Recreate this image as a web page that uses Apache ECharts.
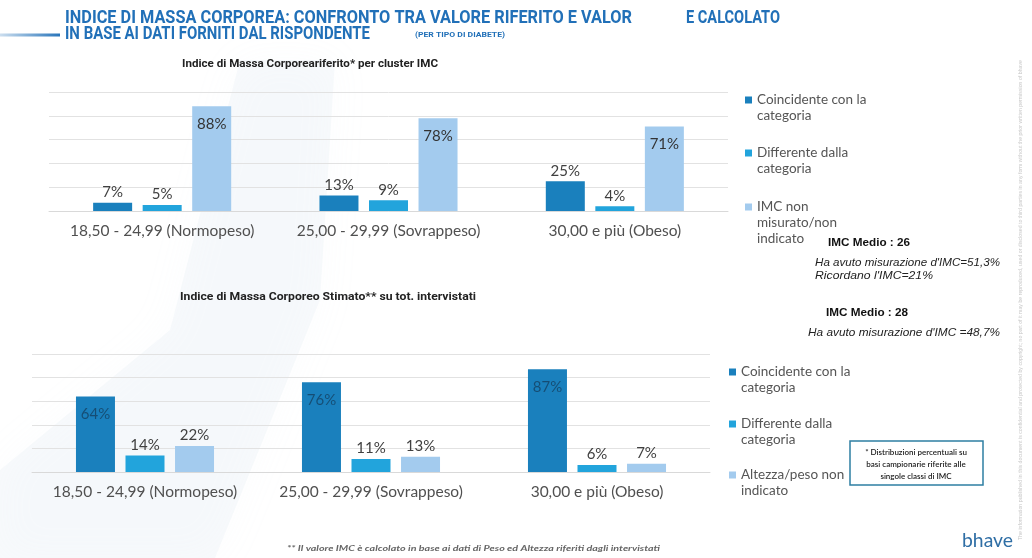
<!DOCTYPE html>
<html>
<head>
<meta charset="utf-8">
<script src="https://cdn.jsdelivr.net/npm/echarts@6/dist/echarts.min.js"></script>
<style>
  html, body { margin: 0; padding: 0; background: #fff; }
  #chart { width: 1032px; height: 558px; }
</style>
</head>
<body>
<div id="chart"></div>
<script>
// categorie IMC
const categories = ['18,50 - 24,99 (Normopeso)', '25,00 - 29,99 (Sovrappeso)', '30,00 e più (Obeso)'];

// IMC riferito (grafico in alto)
const riferitoCoincidente = [7, 13, 25];
const riferitoDifferente = [5, 9, 4];
const riferitoNonMisurato = [88, 78, 71];

// IMC stimato (grafico in basso)
const stimatoCoincidente = [64, 76, 87];
const stimatoDifferente = [14, 11, 6];
const stimatoNonIndicato = [22, 13, 7];

// asse valori
const yMin = 0;
const yMax = 100;
const yStep = 20;

const NAME_COINC = 'Coincidente con la categoria';
const NAME_DIFF = 'Differente dalla categoria';
const NAME_IMC = 'IMC non misurato/non indicato';
const NAME_ALT = 'Altezza/peso non indicato';

// testo legenda a capo come nel riferimento
const legendLines = {};
legendLines[NAME_COINC] = ['Coincidente con la', 'categoria'];
legendLines[NAME_DIFF] = ['Differente dalla', 'categoria'];
legendLines[NAME_IMC] = ['IMC non', 'misurato/non', 'indicato'];
legendLines[NAME_ALT] = ['Altezza/peso non', 'indicato'];

const C_DARK = '#1a80bd';
const C_MID = '#22a4dc';
const C_LIGHT = '#a3cbee';
const TITLE_BLUE = '#2170b8';

const chart = echarts.init(document.getElementById('chart'));

const measureCtx = document.createElement('canvas').getContext('2d');
function fitScale(text, font, width) {
  measureCtx.font = font;
  return width / measureCtx.measureText(text).width;
}

function fitText(text, font, x, y, width, fill, extra) {
  return Object.assign({
    type: 'text',
    x: x,
    y: y,
    scaleX: fitScale(text, font, width),
    silent: true,
    style: { text: text, font: font, fill: fill, verticalAlign: 'middle' }
  }, extra || {});
}

function barData(values, insideColor) {
  return values.map(v => v >= 50
    ? { value: v, label: { position: 'insideTop', distance: 10, color: insideColor } }
    : v);
}

function barSeries(name, values, color, idx, insideColor) {
  return {
    name: name,
    type: 'bar',
    xAxisIndex: idx,
    yAxisIndex: idx,
    data: barData(values, insideColor),
    barWidth: 39,
    barGap: '27%',
    itemStyle: { color: color },
    label: {
      show: true,
      position: 'top',
      distance: 3,
      formatter: '{c}%',
      fontFamily: 'Lato',
      fontSize: 15,
      color: '#404040'
    }
  };
}

// una legenda per voce; righe vuote davanti così l'icona sta sulla prima riga
const LH = 16;
function legendItem(name, left, iconY) {
  const n = legendLines[name].length;
  const pad = new Array(n - 1).fill(' ');
  return {
    left: left,
    top: iconY - (2 * n - 1) * LH / 2,
    padding: 0,
    orient: 'vertical',
    selectedMode: false,
    icon: 'rect',
    itemWidth: 7,
    itemHeight: 7,
    itemGap: 4,
    formatter: nm => pad.concat(legendLines[nm]).join('\n'),
    textStyle: {
      fontFamily: 'Lato',
      fontSize: 13.5,
      color: '#555',
      lineHeight: LH
    },
    data: [name]
  };
}

function xAxisOf(idx) {
  return {
    type: 'category',
    gridIndex: idx,
    data: categories,
    axisTick: { show: false },
    axisLine: { lineStyle: { color: '#d9d9d9' } },
    axisLabel: { interval: 0, fontFamily: 'Lato', fontSize: 15.5, color: '#505050', margin: 12 }
  };
}

function yAxisOf(idx) {
  return {
    type: 'value',
    gridIndex: idx,
    min: yMin,
    max: yMax,
    interval: yStep,
    axisLabel: { show: false },
    axisLine: { show: false },
    axisTick: { show: false },
    splitLine: { lineStyle: { color: '#e2e2e2' } }
  };
}

const titleFont = 'bold 19px Roboto';
const subFont = 'bold 11px Roboto';
const noteItalic = 'italic 11px "Liberation Sans"';
const noteBold = 'bold 11px "Liberation Sans"';
const finePrint = 'The information published in this document is confidential and protected by copyright; no part of it may be reproduced, used or disclosed to third parties in any form without the prior written permission of bhave';

const option = {
  backgroundColor: '#fff',
  animation: false,
  grid: [
    { left: 49, top: 92, right: 304, bottom: 347 },
    { left: 32, top: 354, right: 322, bottom: 86 }
  ],
  xAxis: [xAxisOf(0), xAxisOf(1)],
  yAxis: [yAxisOf(0), yAxisOf(1)],
  legend: [
    legendItem(NAME_COINC, 745, 100),
    legendItem(NAME_DIFF, 745, 153),
    legendItem(NAME_IMC, 745, 207),
    legendItem(NAME_COINC, 729, 372),
    legendItem(NAME_DIFF, 729, 424),
    legendItem(NAME_ALT, 729, 475)
  ],
  series: [
    barSeries(NAME_COINC, riferitoCoincidente, C_DARK, 0, '#333'),
    barSeries(NAME_DIFF, riferitoDifferente, C_MID, 0, '#333'),
    barSeries(NAME_IMC, riferitoNonMisurato, C_LIGHT, 0, '#333'),
    barSeries(NAME_COINC, stimatoCoincidente, C_DARK, 1, 'rgba(20,55,85,0.7)'),
    barSeries(NAME_DIFF, stimatoDifferente, C_MID, 1, '#333'),
    barSeries(NAME_ALT, stimatoNonIndicato, C_LIGHT, 1, '#333')
  ],
  graphic: [
    // sfondo sfumato
    {
      type: 'polygon',
      z: -10,
      silent: true,
      shape: { points: [[240, 60], [335, 60], [320, 300], [215, 558], [0, 558], [0, 470], [170, 330]] },
      style: {
        fill: 'rgba(214,226,238,0.16)',
        shadowBlur: 40,
        shadowColor: 'rgba(214,226,238,0.4)'
      }
    },
    // titolo
    fitText('INDICE DI MASSA CORPOREA: CONFRONTO TRA VALORE RIFERITO E VALOR', titleFont, 65, 18, 567, TITLE_BLUE),
    fitText('E CALCOLATO', titleFont, 686, 18, 94, TITLE_BLUE),
    fitText('IN BASE AI DATI FORNITI DAL RISPONDENTE', titleFont, 65, 34, 305, TITLE_BLUE),
    fitText('(PER TIPO DI DIABETE)', 'bold 8px Roboto', 415, 35, 90, TITLE_BLUE),
    {
      type: 'line',
      silent: true,
      shape: { x1: 0, y1: 35, x2: 60, y2: 35 },
      style: {
        lineWidth: 3,
        stroke: new echarts.graphic.LinearGradient(0, 0, 1, 0, [
          { offset: 0, color: 'rgba(33,112,184,0.2)' },
          { offset: 1, color: TITLE_BLUE }
        ])
      }
    },
    // sottotitoli
    fitText('Indice di Massa Corporeariferito* per cluster IMC', subFont, 182, 64, 256, '#222'),
    fitText('Indice di Massa Corporeo Stimato** su tot. intervistati', subFont, 180, 297, 296, '#222'),
    // note a destra
    fitText('IMC Medio : 26', noteBold, 828, 243, 82, '#111'),
    fitText("Ha avuto misurazione d'IMC=51,3%", noteItalic, 815, 263, 185, '#222'),
    fitText("Ricordano l'IMC=21%", noteItalic, 815, 276, 118, '#222'),
    fitText('IMC Medio : 28', noteBold, 826, 313, 82, '#111'),
    fitText("Ha avuto misurazione d'IMC =48,7%", noteItalic, 808, 333, 192, '#222'),
    // riquadro note
    {
      type: 'rect',
      silent: true,
      shape: { x: 850, y: 441, width: 133, height: 44 },
      style: { fill: '#fff', stroke: '#2e7fa3', lineWidth: 1.5 }
    },
    {
      type: 'text',
      silent: true,
      x: 916,
      y: 464,
      style: {
        text: '* Distribuzioni percentuali su\nbasi campionarie riferite alle\nsingole classi di IMC',
        font: '600 8px Lato',
        lineHeight: 12,
        fill: '#222',
        align: 'center',
        verticalAlign: 'middle'
      }
    },
    // nota piede
    fitText('** Il valore IMC è calcolato in base ai dati di Peso ed Altezza riferiti dagli intervistati',
      'italic bold 8px Lato', 287, 548, 373, '#666'),
    // logo
    fitText('bhave', '20px Lato', 962, 541, 51, '#2f6ea5'),
    // testo verticale
    {
      type: 'text',
      silent: true,
      x: 1021,
      y: 540,
      rotation: Math.PI / 2,
      scaleX: fitScale(finePrint, '5px Arial', 480),
      style: { text: finePrint, font: '5px Arial', fill: '#c8c8c8', verticalAlign: 'middle' }
    }
  ]
};

chart.setOption(option);
</script>
</body>
</html>
